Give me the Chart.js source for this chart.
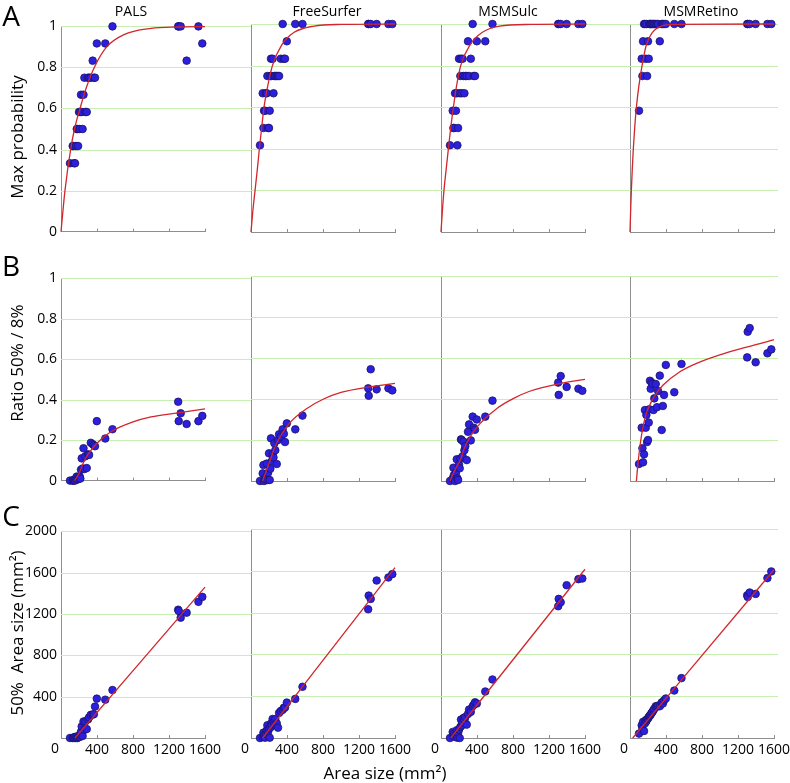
<!DOCTYPE html>
<html>
<head>
<meta charset="utf-8">
<script src="https://cdn.jsdelivr.net/npm/chart.js@4.4.1/dist/chart.umd.min.js"></script>
<style>
  body { margin: 0; background: #fff; width: 790px; height: 783px; position: relative; overflow: hidden; }
  canvas { position: absolute; }
  .t { position: absolute; line-height: 1; white-space: pre; font-family: "Open Sans", sans-serif; color: #000; }
</style>
</head>
<body>
<script>
// area size of each visual area (x of every panel)
const areaSize = [100, 130, 138, 145, 156, 166, 175, 182, 190, 200, 208, 215, 222, 230, 240, 250, 260, 270, 286, 300, 312, 331, 352, 365, 378, 398, 492, 572, 1302, 1308, 1330, 1396, 1527, 1570];

// A: max probability
const maxProbPALS = [.333, .417, .417, .333, .333, .417, .5, .5, .417, .583, .5, .583, .667, .583, .5, .667, .75, .583, .583, .75, .75, .75, .833, .75, .75, .917, .917, 1, 1, 1, 1, .833, 1, .917];
const maxProbFreeSurfer = [.417, .667, .5, .583, .583, .667, .667, .75, .5, .5, .583, .75, .833, .75, .833, .667, .75, .75, .75, .75, .75, .833, 1, .833, .833, .917, 1, 1, 1, 1, 1, 1, 1, 1];
const maxProbMSMSulc = [.417, .583, .5, .5, .667, .583, .667, .417, .5, .833, .667, .75, .833, .667, .833, .75, .667, .75, .75, .917, .75, .833, 1, .75, .75, .917, .917, 1, 1, 1, 1, 1, 1, 1];
const maxProbMSMRetino = [.583, .833, .75, .917, 1, 1, .833, 1, .75, .917, .833, 1, 1, 1, 1, 1, 1, 1, 1, 1, 1, .917, 1, 1, 1, 1, 1, 1, 1, 1, 1, 1, 1, 1];

// B: ratio 50% / 8%
const ratioPALS = [0, 0, 0, .005, 0, .01, .02, .005, .015, .01, .02, .01, .054, .11, .06, .16, .057, .12, .062, .13, .127, .187, .18, .175, .17, .294, .208, .254, .39, .294, .333, .28, .294, .32];
const ratioFreeSurfer = [0, .037, .078, 0, .01, .02, .085, .005, .04, .135, .005, .06, .208, .096, .13, .115, .184, .15, .083, .2, .228, .216, .252, .23, .19, .281, .252, .319, .452, .416, .545, .447, .452, .442];
const ratioMSMSulc = [0, .013, .065, .03, 0, .04, .106, .013, .005, .08, .062, .11, .203, .2, .12, .192, .15, .17, .102, .24, .276, .198, .314, .26, .25, .3, .314, .392, .48, .42, .512, .459, .45, .44];
const ratioMSMRetino = [.083, .26, .16, .091, .13, .346, .26, .322, .19, .2, .285, .35, .489, .45, .48, .473, .346, .403, .473, .36, .439, .514, .249, .366, .42, .566, .433, .571, .603, .728, .746, .579, .623, .642];

// C: 50% area size (mm2)
const area50PALS = [0, 0, 5, 0, 10, 0, 15, 0, 5, 20, 10, 30, 60, 112, 20, 160, 80, 160, 86, 180, 200, 224, 227, 230, 304, 381, 371, 464, 1242, 1230, 1165, 1213, 1318, 1366];
const area50FreeSurfer = [0, 10, 51, 20, 3, 40, 74, 122, 60, 90, 3, 100, 138, 120, 182, 150, 130, 182, 140, 99, 240, 259, 270, 290, 291, 339, 374, 490, 1232, 1363, 1331, 1507, 1536, 1568];
const area50MSMSulc = [0, 58, 20, 40, 10, 30, 74, 3, 50, 80, 0, 106, 176, 120, 150, 192, 170, 200, 128, 230, 272, 250, 304, 320, 342, 330, 445, 560, 1261, 1331, 1299, 1462, 1520, 1526];
const area50MSMRetino = [42, 122, 90, 154, 67, 140, 170, 160, 180, 186, 200, 208, 215, 225, 240, 250, 266, 280, 304, 300, 310, 304, 340, 330, 360, 378, 454, 573, 1366, 1350, 1392, 1379, 1530, 1594];

// fitted curves
const fitProbPALS = [[0, 0], [44, .2], [107, .4], [150, .5], [211, .6], [280, .7], [370, .8], [507, .9], [700, .96], [1000, .99], [1300, .997], [1600, .999]];
const fitProbFreeSurfer = [[0, 0], [20, .1], [45, .2], [70, .3], [93, .4], [118, .5], [145, .6], [185, .7], [238, .8], [342, .9], [480, .96], [700, .99], [1000, .998], [1600, 1]];
const fitProbMSMSulc = [[0, 0], [15, .1], [33, .2], [57, .3], [82, .4], [108, .5], [138, .6], [172, .7], [219, .8], [324, .9], [460, .96], [650, .99], [1000, .998], [1600, 1]];
const fitProbMSMRetino = [[0, 0], [7, .1], [15, .2], [25, .3], [37, .4], [52, .5], [71, .6], [98, .7], [134, .8], [182, .9], [250, .96], [350, .99], [500, .998], [1600, 1]];

const fitRatioPALS = [[150, 0], [200, .035], [250, .09], [300, .13], [400, .185], [550, .24], [800, .29], [1000, .315], [1300, .335], [1600, .355]];
const fitRatioFreeSurfer = [[130, 0], [170, .05], [212, .1], [260, .16], [324, .216], [435, .286], [621, .354], [807, .4], [1000, .432], [1300, .458], [1600, .476]];
const fitRatioMSMSulc = [[100, 0], [150, .05], [212, .1], [260, .16], [324, .216], [435, .281], [621, .354], [807, .403], [993, .439], [1328, .476], [1600, .496]];
const fitRatioMSMRetino = [[71, 0], [89, .086], [115, .184], [145, .265], [182, .33], [238, .387], [294, .428], [368, .468], [554, .533], [740, .574], [1112, .631], [1484, .675], [1600, .69]];

const fitAreaPALS = [[155, 0], [1600, 1460]];
const fitAreaFreeSurfer = [[130, 0], [1600, 1630]];
const fitAreaMSMSulc = [[108, 0], [1600, 1615]];
const fitAreaMSMRetino = [[30, 0], [1600, 1610]];

// tick labels
const methods = ['PALS', 'FreeSurfer', 'MSMSulc', 'MSMRetino'];
const xTicks = [0, 400, 800, 1200, 1600];
const probTicks = [0, 0.2, 0.4, 0.6, 0.8, 1];
const areaTicks = [0, 400, 800, 1200, 1600, 2000];

// layout
const colAxis = [61, 251, 441, 630];
const plotW = 144;
const rows = [
  { top: 24, h: 208, ys: [maxProbPALS, maxProbFreeSurfer, maxProbMSMSulc, maxProbMSMRetino],
    fits: [fitProbPALS, fitProbFreeSurfer, fitProbMSMSulc, fitProbMSMRetino], yTicks: probTicks, xLabels: false },
  { top: 276, h: 205, ys: [ratioPALS, ratioFreeSurfer, ratioMSMSulc, ratioMSMRetino],
    fits: [fitRatioPALS, fitRatioFreeSurfer, fitRatioMSMSulc, fitRatioMSMRetino], yTicks: probTicks, xLabels: false },
  { top: 529, h: 209, ys: [area50PALS, area50FreeSurfer, area50MSMSulc, area50MSMRetino],
    fits: [fitAreaPALS, fitAreaFreeSurfer, fitAreaMSMSulc, fitAreaMSMRetino], yTicks: areaTicks, xLabels: true }
];

const FONT = '"Open Sans", sans-serif';
const GRID = '#c8efb2';
const AXIS = '#8e8e8e';

// green grid lines running across the panels, inward x ticks, shifted "0"
const frame = {
  id: 'frame',
  beforeDatasetsDraw(chart, args, o) {
    const { ctx, chartArea: a, scales: { x, y } } = chart;
    ctx.save();
    ctx.lineWidth = 1;
    ctx.strokeStyle = GRID;
    y.ticks.forEach(t => {
      if (t.value === 0) return;
      const py = Math.round(y.getPixelForValue(t.value)) + 0.5;
      ctx.beginPath(); ctx.moveTo(a.left, py); ctx.lineTo(a.left + o.ext, py); ctx.stroke();
    });
    ctx.strokeStyle = AXIS;
    x.ticks.forEach(t => {
      if (t.value === 0) return;
      const px = Math.round(x.getPixelForValue(t.value)) + 0.5;
      ctx.beginPath(); ctx.moveTo(px, a.bottom); ctx.lineTo(px, a.bottom - 3); ctx.stroke();
    });
    if (o.zero) {
      ctx.fillStyle = '#000';
      ctx.font = '14px ' + FONT;
      ctx.textAlign = 'center';
      ctx.textBaseline = 'top';
      ctx.fillText('0', x.getPixelForValue(0) - 6, a.bottom + 4);
    }
    ctx.restore();
  }
};

rows.forEach((row, r) => {
  methods.forEach((m, c) => {
    const padL = c === 0 ? 61 : 20;
    const padT = 10;
    const padB = row.xLabels ? 30 : 12;
    const ext = c < 3 ? colAxis[c + 1] - colAxis[c] : 148;
    const padR = Math.max(ext - plotW, 24);
    const cv = document.createElement('canvas');
    const W = padL + plotW + padR, H = padT + row.h + padB;
    cv.width = W; cv.height = H;
    cv.style.left = (colAxis[c] - padL) + 'px';
    cv.style.top = (row.top - padT) + 'px';
    cv.style.width = W + 'px'; cv.style.height = H + 'px';
    document.body.appendChild(cv);

    const yMax = row.yTicks[row.yTicks.length - 1];
    new Chart(cv.getContext('2d'), {
      type: 'scatter',
      data: {
        datasets: [{
          type: 'line',
          data: row.fits[c].map(p => ({ x: p[0], y: p[1] })),
          borderColor: '#d1262b',
          borderWidth: 1.3,
          pointRadius: 0,
          fill: false,
          cubicInterpolationMode: 'monotone',
          clip: false
        }, {
          data: areaSize.map((x, i) => ({ x: x, y: row.ys[c][i] })),
          backgroundColor: '#2c1fdf',
          borderColor: '#1a1466',
          borderWidth: 0.8,
          pointRadius: 3.8,
          clip: false
        }]
      },
      options: {
        responsive: false,
        animation: false,
        devicePixelRatio: 1,
        layout: { padding: { top: padT, right: padR, left: 0, bottom: 0 } },
        plugins: {
          legend: { display: false },
          tooltip: { enabled: false },
          frame: { ext: ext, zero: row.xLabels }
        },
        scales: {
          x: {
            type: 'linear', min: 0, max: 1600,
            afterBuildTicks: s => { s.ticks = xTicks.map(v => ({ value: v })); },
            afterFit: s => { s.height = padB; },
            grid: { display: false, drawTicks: false },
            border: { display: true, color: AXIS, width: 1 },
            ticks: {
              display: row.xLabels,
              autoSkip: false,
              padding: 4,
              color: '#000',
              font: { size: 14, family: FONT },
              maxRotation: 0,
              callback: v => v === 0 ? '' : String(v)
            }
          },
          y: {
            type: 'linear', min: 0, max: yMax,
            afterBuildTicks: s => { s.ticks = row.yTicks.map(v => ({ value: v })); },
            afterFit: s => { s.width = padL; },
            grid: { display: false, drawTicks: false },
            border: { display: true, color: AXIS, width: 1 },
            ticks: {
              display: c === 0,
              autoSkip: false,
              padding: 4,
              color: '#000',
              font: { size: 14, family: FONT },
              callback: v => {
                if (row.xLabels) return v === 0 ? '' : String(v);
                return (v === 0 || v === 1) ? String(v) : v.toFixed(1);
              }
            }
          }
        }
      },
      plugins: [frame]
    });
  });
});

// text
function addText(txt, x, y, size, rot) {
  const d = document.createElement('div');
  d.className = 't';
  d.textContent = txt;
  d.style.left = x + 'px';
  d.style.top = y + 'px';
  d.style.fontSize = size + 'px';
  d.style.transform = 'translate(-50%,-50%)' + (rot ? ' rotate(-90deg)' : '');
  document.body.appendChild(d);
}
addText('A', 11, 15, 28);
addText('B', 11, 265, 28);
addText('C', 11, 515, 28);
const titleX = [131, 327, 508, 701];
methods.forEach((m, i) => addText(m, titleX[i], 11, 14));
addText('Max probability', 16, 137, 17, true);
addText('Ratio 50% / 8%', 16, 363, 17, true);
addText('50%  Area size (mm\u00b2)', 16, 633, 17, true);
addText('Area size (mm\u00b2)', 385, 772, 17);
</script>
</body>
</html>
